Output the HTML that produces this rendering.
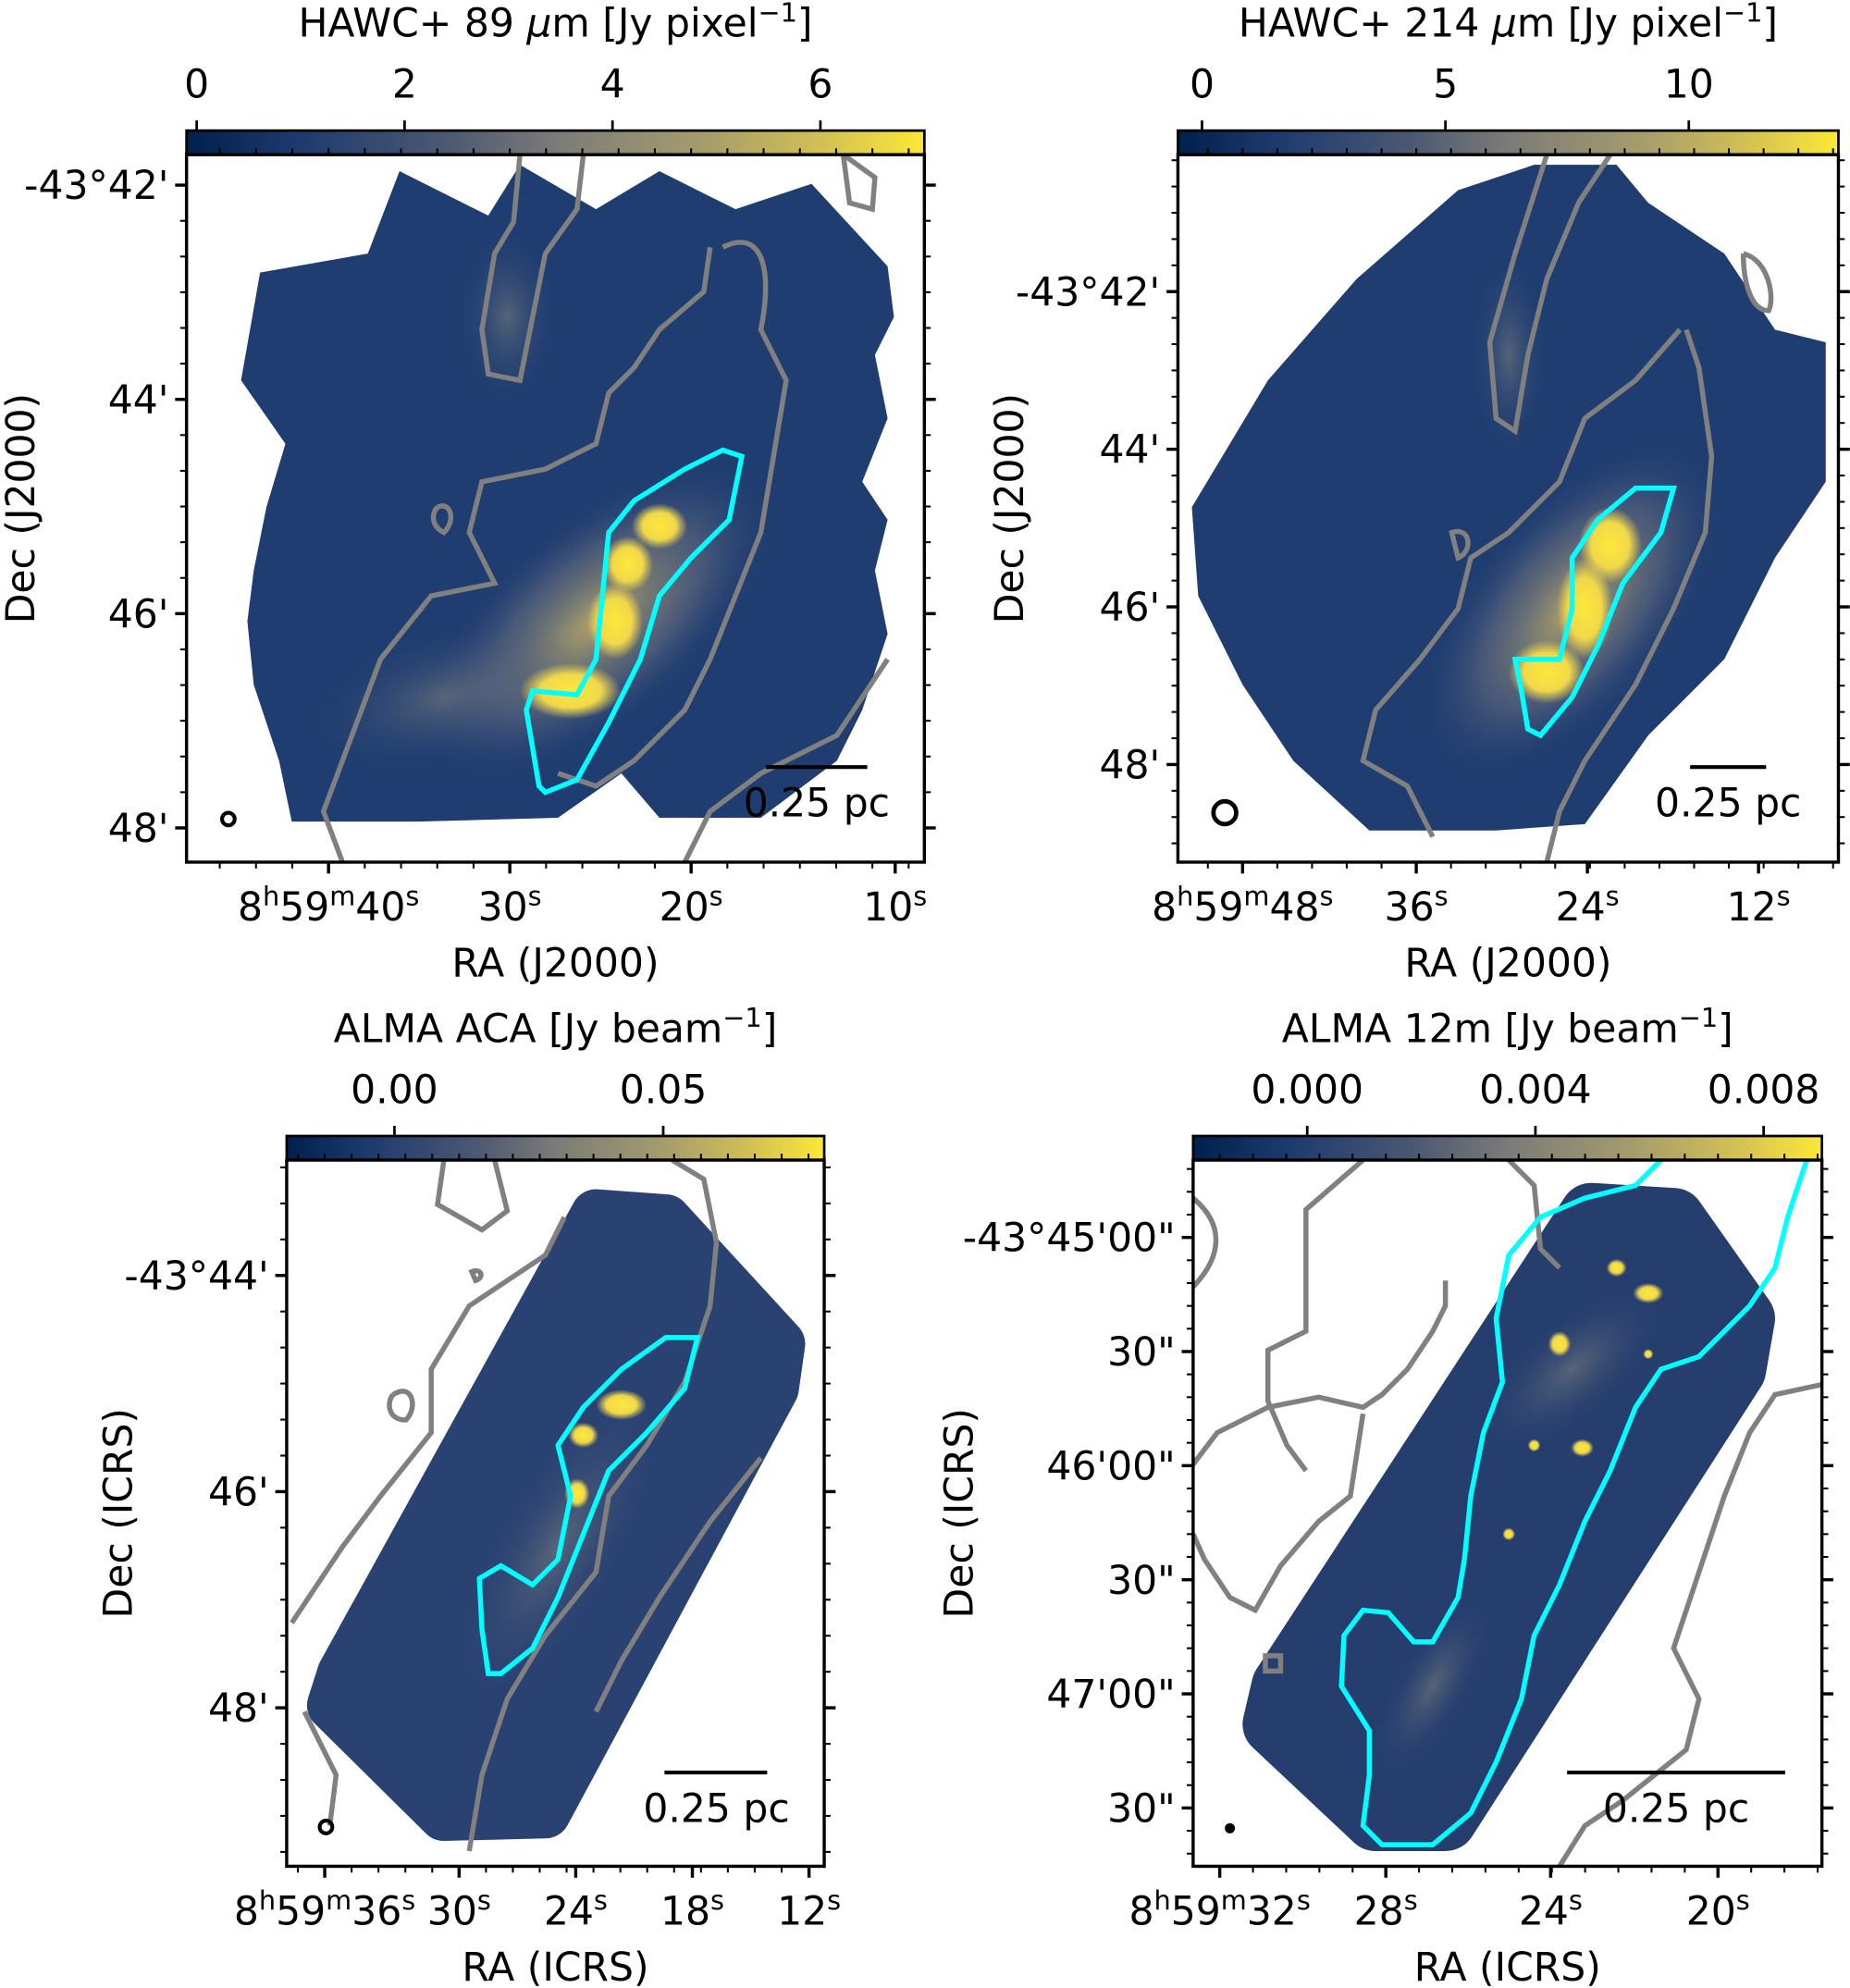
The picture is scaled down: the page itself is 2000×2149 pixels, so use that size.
<!DOCTYPE html>
<html><head><meta charset="utf-8">
<style>
html,body{margin:0;padding:0;background:#fff;}
svg{display:block;font-family:"DejaVu Sans","Liberation Sans",sans-serif;}
text{fill:#000;font-size:31px;}
</style></head>
<body>
<svg id="fig" width="2000" height="2149" viewBox="0 0 1459 1568" xmlns="http://www.w3.org/2000/svg">
<defs>
<linearGradient id="cmap" x1="0" x2="1" y1="0" y2="0">
<stop offset="0" stop-color="#00204c"/><stop offset="0.15" stop-color="#1d3a6e"/>
<stop offset="0.35" stop-color="#4b5872"/><stop offset="0.5" stop-color="#7b7b78"/>
<stop offset="0.7" stop-color="#a59c6c"/><stop offset="0.85" stop-color="#cfbd57"/>
<stop offset="1" stop-color="#fde737"/></linearGradient>
<radialGradient id="glow"><stop offset="0" stop-color="#b8a868" stop-opacity="0.95"/><stop offset="0.6" stop-color="#6f7280" stop-opacity="0.5"/><stop offset="1" stop-color="#2a4478" stop-opacity="0"/></radialGradient>
<radialGradient id="yel"><stop offset="0" stop-color="#ffe83a"/><stop offset="0.6" stop-color="#f0d84a"/><stop offset="1" stop-color="#e8d050" stop-opacity="0"/></radialGradient>
<radialGradient id="faint"><stop offset="0" stop-color="#8a8a80" stop-opacity="0.5"/><stop offset="1" stop-color="#2a4478" stop-opacity="0"/></radialGradient>
<clipPath id="c1"><rect x="147" y="122" width="582" height="558"/></clipPath>
<clipPath id="c2"><rect x="929" y="122" width="521" height="558"/></clipPath>
<clipPath id="c3"><rect x="226" y="915" width="424" height="557"/></clipPath>
<clipPath id="c4"><rect x="941" y="915" width="496" height="557"/></clipPath>
</defs>

<g clip-path="url(#c1)">
<polygon fill="#1f3d70" points="205,215 290,200 315,135 385,170 410,130 470,165 520,135 580,165 640,145 700,210 705,250 690,280 700,330 680,380 700,410 690,450 700,500 680,560 660,600 600,645 520,645 490,610 440,645 330,648 230,648 220,600 200,540 195,490 200,450 210,400 225,350 190,300"/>
<ellipse cx="470" cy="490" rx="170" ry="80" transform="rotate(-40 470 490)" fill="url(#glow)"/>
<ellipse cx="350" cy="550" rx="110" ry="55" transform="rotate(-15 350 550)" fill="url(#faint)"/>
<ellipse cx="400" cy="250" rx="40" ry="70" fill="url(#faint)"/>
<ellipse cx="520" cy="415" rx="22" ry="18" fill="url(#yel)"/>
<ellipse cx="495" cy="445" rx="20" ry="22" fill="url(#yel)"/>
<ellipse cx="485" cy="490" rx="22" ry="30" fill="url(#yel)"/>
<ellipse cx="450" cy="545" rx="40" ry="22" fill="url(#yel)"/>
<g fill="none" stroke="#808080" stroke-width="4">
<path d="M410,122 L405,175 390,200 380,260 385,295 410,300 420,250 430,200 455,165 460,122"/>
<path d="M665,122 L690,140 688,165 670,160 665,122"/>
<path d="M570,195 C600,180 610,210 600,260 L620,300 610,360 600,420 580,470 560,520 540,560 500,600 470,620 L440,610 M560,195 L555,230 520,260 500,290 480,310 470,350 430,370 380,380 370,420 390,460 340,470 300,520 270,600 255,640 270,680"/>
<path d="M345,400 C355,395 360,410 350,420 C340,415 340,405 345,400"/>
<path d="M700,520 L660,580 600,610 560,640 540,680"/>
</g>
<path fill="none" stroke="#00ffff" stroke-width="4" d="M425,620 L420,590 415,560 420,545 455,548 470,520 475,470 480,420 500,395 540,370 570,355 585,360 575,410 545,440 520,470 505,520 480,570 455,615 430,625 Z"/>
<circle cx="180" cy="646" r="5" fill="none" stroke="#000" stroke-width="3"/>
<line x1="604" y1="605" x2="684" y2="605" stroke="#000" stroke-width="3"/>
<text x="644" y="644" text-anchor="middle">0.25 pc</text>
</g>

<g clip-path="url(#c2)">
<polygon fill="#1f3d70" points="940,400 1000,300 1070,220 1150,150 1210,130 1275,130 1300,160 1360,200 1400,260 1440,270 1440,380 1400,440 1360,520 1300,580 1250,650 1180,655 1080,655 1020,600 980,540 945,470"/>
<ellipse cx="1240" cy="480" rx="160" ry="80" transform="rotate(-50 1240 480)" fill="url(#glow)"/>
<ellipse cx="1190" cy="280" rx="30" ry="80" fill="url(#faint)"/>
<ellipse cx="1270" cy="430" rx="25" ry="30" fill="url(#yel)"/>
<ellipse cx="1250" cy="480" rx="22" ry="40" fill="url(#yel)"/>
<ellipse cx="1220" cy="530" rx="30" ry="25" fill="url(#yel)"/>
<g fill="none" stroke="#808080" stroke-width="4">
<path d="M1220,122 L1195,200 1175,270 1180,330 1195,340 1205,280 1220,220 1245,160 1270,122"/>
<path d="M1375,200 C1395,205 1400,235 1395,245 C1380,245 1375,220 1375,200"/>
<path d="M1330,260 L1340,290 1350,360 1345,420 1320,480 1290,540 1250,600 1230,640 1220,680 M1325,260 L1290,300 1250,330 1230,380 1190,420 1160,440 1150,480 1120,520 1085,560 1075,600 1110,620 1130,660"/>
<path d="M1145,420 C1160,415 1162,435 1150,440 Z"/>
</g>
<path fill="none" stroke="#00ffff" stroke-width="4" d="M1205,575 L1200,545 1195,520 1230,520 1240,480 1240,440 1260,410 1290,385 1320,385 1310,420 1280,460 1260,510 1240,550 1215,580 Z"/>
<circle cx="966" cy="641" r="9" fill="none" stroke="#000" stroke-width="3.5"/>
<line x1="1333" y1="605" x2="1393" y2="605" stroke="#000" stroke-width="3"/>
<text x="1363" y="644" text-anchor="middle">0.25 pc</text>
</g>

<g clip-path="url(#c3)">
<polygon fill="#2a4272" stroke="#2a4272" stroke-width="40" stroke-linejoin="round" points="470,958 525,962 615,1060 610,1095 430,1430 350,1432 262,1345 270,1320"/>
<ellipse cx="440" cy="1220" rx="140" ry="50" transform="rotate(-60 440 1220)" fill="url(#faint)"/>
<ellipse cx="490" cy="1108" rx="20" ry="12" fill="url(#yel)"/>
<ellipse cx="460" cy="1132" rx="12" ry="10" fill="url(#yel)"/>
<ellipse cx="455" cy="1178" rx="10" ry="12" fill="url(#yel)"/>
<g fill="none" stroke="#808080" stroke-width="4">
<path d="M350,915 L345,950 380,970 400,955 390,915 M530,915 L555,930 565,980 560,1030 540,1090 510,1140 480,1180 470,1240 430,1290 400,1340 380,1400 370,1460"/>
<path d="M445,960 L430,990 400,1010 370,1030 340,1080 340,1130 300,1180 270,1220 230,1280"/>
<path d="M310,1100 C325,1090 330,1110 320,1120 C305,1120 305,1105 310,1100"/>
<path d="M372,1003 C380,1000 382,1008 375,1010 Z"/>
<path d="M240,1350 L265,1400 260,1440 M600,1150 L560,1200 520,1260 490,1310 470,1350"/>
</g>
<path fill="none" stroke="#00ffff" stroke-width="4" d="M385,1320 L380,1285 378,1245 395,1235 420,1250 440,1230 450,1180 440,1140 460,1110 490,1080 525,1055 550,1055 540,1095 510,1130 480,1160 460,1210 440,1260 420,1300 395,1320 Z"/>
<circle cx="257" cy="1441" r="5" fill="none" stroke="#000" stroke-width="3"/>
<line x1="524" y1="1398" x2="605" y2="1398" stroke="#000" stroke-width="3"/>
<text x="565" y="1437" text-anchor="middle">0.25 pc</text>
</g>

<g clip-path="url(#c4)">
<polygon fill="#263e6e" stroke="#263e6e" stroke-width="50" stroke-linejoin="round" points="1255,958 1320,962 1375,1040 1368,1080 1140,1435 1085,1435 1005,1360 1012,1330"/>
<ellipse cx="1240" cy="1080" rx="90" ry="40" transform="rotate(-40 1240 1080)" fill="url(#faint)"/>
<ellipse cx="1130" cy="1330" rx="80" ry="30" transform="rotate(-60 1130 1330)" fill="url(#faint)"/>
<ellipse cx="1275" cy="1000" rx="8" ry="7" fill="url(#yel)"/>
<ellipse cx="1300" cy="1020" rx="12" ry="8" fill="url(#yel)"/>
<ellipse cx="1230" cy="1060" rx="9" ry="10" fill="url(#yel)"/>
<ellipse cx="1248" cy="1142" rx="9" ry="7" fill="url(#yel)"/>
<ellipse cx="1210" cy="1140" rx="5" ry="5" fill="url(#yel)"/>
<ellipse cx="1190" cy="1210" rx="5" ry="5" fill="url(#yel)"/>
<ellipse cx="1300" cy="1068" rx="4" ry="4" fill="url(#yel)"/>
<g fill="none" stroke="#808080" stroke-width="4">
<path d="M1075,915 L1030,954 1030,1050 1000,1065 1000,1105 1015,1140 1030,1160 M1190,915 L1210,935 1215,985 1230,1000 M941,945 C965,965 965,990 941,1015"/>
<path d="M941,1155 L960,1130 1000,1110 1040,1102 L1075,1110 1090,1100 1110,1080 1130,1050 1140,1030 1140,1010 M941,1210 L950,1230 970,1260 990,1270 1010,1235 1040,1200 1065,1180 1075,1115"/>
<path d="M1437,1092 L1400,1100 1380,1130 1360,1180 1340,1240 1320,1300 1340,1340 1330,1380 1280,1420 1250,1440 1230,1472"/>
<path d="M998,1306 h12 v12 h-12 Z"/>
</g>
<path fill="none" stroke="#00ffff" stroke-width="4" d="M1310,915 L1290,935 1250,945 1215,960 1190,990 1180,1040 1185,1090 1170,1130 1160,1180 1155,1230 1150,1260 1130,1295 1115,1295 1095,1272 1075,1270 1060,1290 1058,1330 1080,1365 1080,1400 1075,1440 1090,1455 1130,1455 1160,1430 1180,1390 1200,1340 1210,1290 1230,1250 1250,1200 1270,1160 1290,1110 1310,1080 1340,1070 1380,1030 1400,1000 1410,960 1420,930 1425,915"/>
<circle cx="970" cy="1442" r="4" fill="#000"/>
<line x1="1236" y1="1398" x2="1408" y2="1398" stroke="#000" stroke-width="3"/>
<text x="1322" y="1437" text-anchor="middle">0.25 pc</text>
</g>

<g id="axes"></g>
</svg>
<script>
const p1CbarTicks = [0, 2, 4, 6];
const p2CbarTicks = [0, 5, 10];
const p3CbarTicks = ["0.00", "0.05"];
const p4CbarTicks = ["0.000", "0.004", "0.008"];
const p1Y = ["-43°42'", "44'", "46'", "48'"];
const p2Y = ["-43°42'", "44'", "46'", "48'"];
const p3Y = ["-43°44'", "46'", "48'"];
const p4Y = ["-43°45'00\"", "30\"", "46'00\"", "30\"", "47'00\"", "30\""];
const p1X = [["8","59","40"], ["","","30"], ["","","20"], ["","","10"]];
const p2X = [["8","59","48"], ["","","36"], ["","","24"], ["","","12"]];
const p3X = [["8","59","36"], ["","","30"], ["","","24"], ["","","18"], ["","","12"]];
const p4X = [["8","59","32"], ["","","28"], ["","","24"], ["","","20"]];

const NS = "http://www.w3.org/2000/svg";
const root = document.getElementById('axes');
function mk(tag, attrs, parent) {
  const e = document.createElementNS(NS, tag);
  for (const k in attrs) e.setAttribute(k, attrs[k]);
  (parent || root).appendChild(e);
  return e;
}
const panels = [
 {box:[147,122,729,680], cb:[103,122], cbTicks:p1CbarTicks, cbPos:[155,647], title:"HAWC+ 89 ", um:true, unit:"[Jy pixel", y:p1Y, yPos:[146,653], x:p1X, xPos:[259,402,545,706], xl:"RA (J2000)", yl:"Dec (J2000)", ylx:15, xly:770},
 {box:[929,122,1450,680], cb:[103,122], cbTicks:p2CbarTicks, cbPos:[948,1332], title:"HAWC+ 214 ", um:true, unit:"[Jy pixel", y:p2Y, yPos:[230,603], x:p2X, xPos:[980,1117,1252,1387], xl:"RA (J2000)", yl:"Dec (J2000)", ylx:795, xly:770},
 {box:[226,915,650,1472], cb:[896,915], cbTicks:p3CbarTicks, cbPos:[311,523], title:"ALMA ACA ", um:false, unit:"[Jy beam", y:p3Y, yPos:[1006,1347], x:p3X, xPos:[256,362,454,546,638], xl:"RA (ICRS)", yl:"Dec (ICRS)", ylx:92, xly:1562},
 {box:[941,915,1437,1472], cb:[896,915], cbTicks:p4CbarTicks, cbPos:[1031,1391], title:"ALMA 12m ", um:false, unit:"[Jy beam", y:p4Y, yPos:[976,1426], x:p4X, xPos:[962,1093,1223,1355], xl:"RA (ICRS)", yl:"Dec (ICRS)", ylx:755, xly:1562}
];
panels.forEach((p, i) => {
  const [x0,y0,x1,y1] = p.box;
  const g = mk('g', {});
  
  
  const cb = mk('rect', {x:x0, y:p.cb[0], width:x1-x0, height:p.cb[1]-p.cb[0], fill:'url(#cmap)', stroke:'#000', 'stroke-width':2}, g);
  
  
  const n = p.cbTicks.length;
  p.cbTicks.forEach((t, k) => {
    const x = p.cbPos[0] + (p.cbPos[1]-p.cbPos[0]) * (n>1 ? k/(n-1) : 0);
    mk('line', {x1:x, x2:x, y1:p.cb[0]-8, y2:p.cb[0], stroke:'#000', 'stroke-width':2}, g);
    const tx = mk('text', {x:x, y:p.cb[0]-26, 'text-anchor':'middle'}, g);
    tx.textContent = t;
    
    
  });
  const tt = mk('text', {x:(x0+x1)/2, y:p.cb[0]-74, 'text-anchor':'middle'}, g);
  
  
  tt.innerHTML = p.title + (p.um ? '<tspan font-style="italic">μ</tspan>m ' : '') + p.unit + '<tspan dy="-12" font-size="21">−1</tspan><tspan dy="12">]</tspan>';
  mk('rect', {x:x0, y:y0, width:x1-x0, height:y1-y0, fill:'none', stroke:'#000', 'stroke-width':2.5}, g);
  const ny = p.y.length;
  const dy = (p.yPos[1]-p.yPos[0])/(ny-1);
  p.y.forEach((t, k) => {
    const y = p.yPos[0] + dy*k;
    mk('line', {x1:x0-9, x2:x0, y1:y, y2:y, stroke:'#000', 'stroke-width':2.5}, g);
    mk('line', {x1:x1, x2:x1+9, y1:y, y2:y, stroke:'#000', 'stroke-width':2.5}, g);
    const tx = mk('text', {x:x0-14, y:y+11, 'text-anchor':'end'}, g);
    tx.textContent = t;
    
    
  });
  for (let y = p.yPos[0] - dy; y < y1 + dy; y += dy/ (i===3 ? 5 : 6)) {
    if (y < y0 || y > y1) continue;
    mk('line', {x1:x0-5, x2:x0, y1:y, y2:y, stroke:'#000', 'stroke-width':1.5}, g);
    mk('line', {x1:x1, x2:x1+5, y1:y, y2:y, stroke:'#000', 'stroke-width':1.5}, g);
  }
  const dxm = (p.xPos[1]-p.xPos[0]) / 5;
  for (let x = p.xPos[0] - 5*dxm; x < x1 + dxm; x += dxm) {
    if (x < x0 || x > x1) continue;
    mk('line', {x1:x, x2:x, y1:y1, y2:y1+5, stroke:'#000', 'stroke-width':1.5}, g);
    mk('line', {x1:x, x2:x, y1:y0-5, y2:y0, stroke:'#000', 'stroke-width':1.5}, g);
  }
  p.x.forEach((t, k) => {
    const x = p.xPos[k];
    mk('line', {x1:x, x2:x, y1:y1, y2:y1+9, stroke:'#000', 'stroke-width':2.5}, g);
    const tx = mk('text', {x:x, y:y1+46, 'text-anchor':'middle'}, g);
    
    
    if (t[0]) tx.innerHTML = t[0] + '<tspan dy="-12" font-size="21">h</tspan><tspan dy="12">' + t[1] + '</tspan><tspan dy="-12" font-size="21">m</tspan><tspan dy="12">' + t[2] + '</tspan><tspan dy="-12" font-size="21">s</tspan>';
    else tx.innerHTML = t[2] + '<tspan dy="-12" font-size="21">s</tspan>';
  });
  const xl = mk('text', {x:(x0+x1)/2, y:p.xly, 'text-anchor':'middle'}, g);
  xl.textContent = p.xl;
  
  
  const cy = (y0+y1)/2;
  const yl = mk('text', {x:p.ylx+12, y:cy, 'text-anchor':'middle', transform:'rotate(-90 '+(p.ylx+12)+' '+cy+')'}, g);
  yl.textContent = p.yl;
  
  
});
</script>
</body></html>
